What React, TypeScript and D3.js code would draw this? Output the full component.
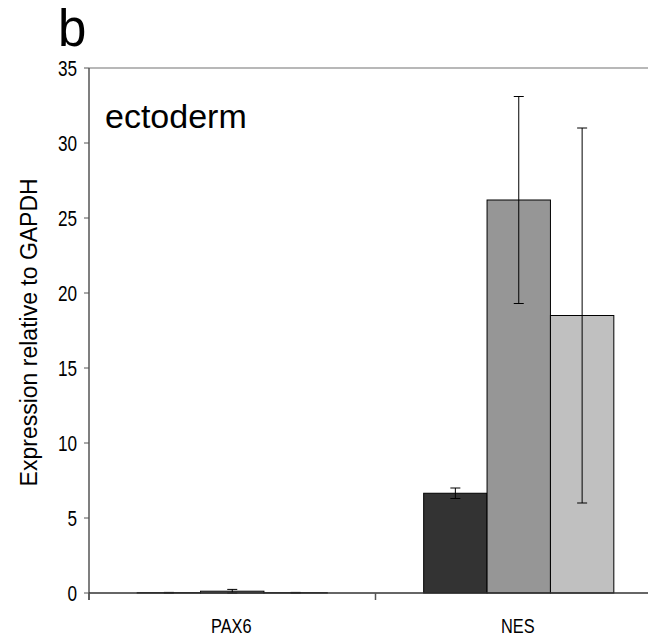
import React from "react";
import * as d3 from "d3";

const categories = ["PAX6", "NES"];
const series = ["s1", "s2", "s3"];
const seriesColors = ["#333333", "#969696", "#c0c0c0"];
const values = [
  [0.02, 0.12, 0.02],
  [6.65, 26.2, 18.5],
];
const errors = [
  [0.02, 0.12, 0.02],
  [0.35, 6.9, 12.5],
];
const yTicks = [0, 5, 10, 15, 20, 25, 30, 35];

const W = 648;
const H = 640;
const left = 89;
const right = 662;
const top = 68;
const bottom = 593;

export default function App() {
  const y = d3.scaleLinear().domain([0, 35]).range([bottom, top]);
  const x0 = d3.scaleBand<string>().domain(categories).range([left, right]).padding(0);
  const x1 = d3
    .scaleBand<string>()
    .domain(series)
    .range([0, x0.bandwidth()])
    .paddingInner(0)
    .paddingOuter(0.76);
  const sans = "'Liberation Sans', Arial, sans-serif";
  const bounds = [left, ...categories.map((c) => (x0(c) as number) + x0.bandwidth())];

  return (
    <svg
      width={W}
      height={H}
      style={{ position: "absolute", left: 0, top: 0, background: "#fff" }}
    >
      <text x={58} y={46} fontFamily={sans} fontSize={51} fill="#000">
        b
      </text>
      {/* top frame line */}
      <line x1={left} x2={right} y1={top} y2={top} stroke="#a0a0a0" strokeWidth={1.5} />
      {/* bars */}
      {categories.map((c, ci) =>
        series.map((s, si) => {
          const bx = (x0(c) as number) + (x1(s) as number);
          const bw = x1.bandwidth();
          const v = values[ci][si];
          const e = errors[ci][si];
          const cx = bx + bw / 2;
          return (
            <g key={c + s}>
              <rect
                x={bx}
                y={y(v)}
                width={bw}
                height={y(0) - y(v)}
                fill={seriesColors[si]}
                stroke="#000"
                strokeWidth={1}
              />
              <line x1={cx} x2={cx} y1={y(v + e)} y2={y(Math.max(0, v - e))} stroke="#000" strokeWidth={1} />
              <line x1={cx - 5} x2={cx + 5} y1={y(v + e)} y2={y(v + e)} stroke="#000" strokeWidth={1} />
              <line x1={cx - 5} x2={cx + 5} y1={y(Math.max(0, v - e))} y2={y(Math.max(0, v - e))} stroke="#000" strokeWidth={1} />
            </g>
          );
        })
      )}
      {/* y axis */}
      <line x1={left} x2={left} y1={top} y2={bottom + 7} stroke="#555" strokeWidth={1.5} />
      {yTicks.map((t) => (
        <g key={t}>
          <line x1={left - 5} x2={left} y1={y(t)} y2={y(t)} stroke="#555" strokeWidth={1} />
          <text
            transform={`translate(77, ${y(t)}) scale(0.78, 1)`}
            dy="0.36em"
            textAnchor="end"
            fontFamily={sans}
            fontSize={22}
            fill="#000"
          >
            {t}
          </text>
        </g>
      ))}
      {/* x axis */}
      <line x1={left} x2={right} y1={bottom} y2={bottom} stroke="#333" strokeWidth={1.5} />
      {bounds.map((b, i) => (
        <line key={i} x1={b} x2={b} y1={bottom} y2={bottom + 7} stroke="#555" strokeWidth={1.5} />
      ))}
      {categories.map((c) => (
        <text
          key={c}
          transform={`translate(${(x0(c) as number) + x0.bandwidth() / 2 - 1}, 633) scale(0.78, 1)`}
          textAnchor="middle"
          fontFamily={sans}
          fontSize={21}
          fill="#000"
        >
          {c}
        </text>
      ))}
      <text x={105} y={128} fontFamily={sans} fontSize={34} fill="#000">
        ectoderm
      </text>
      <text
        transform={`translate(37, ${(176.7 + 488) / 2}) rotate(-90)`}
        textAnchor="middle"
        fontFamily={sans}
        fontSize={23}
        fill="#000"
      >
        Expression relative to GAPDH
      </text>
    </svg>
  );
}
